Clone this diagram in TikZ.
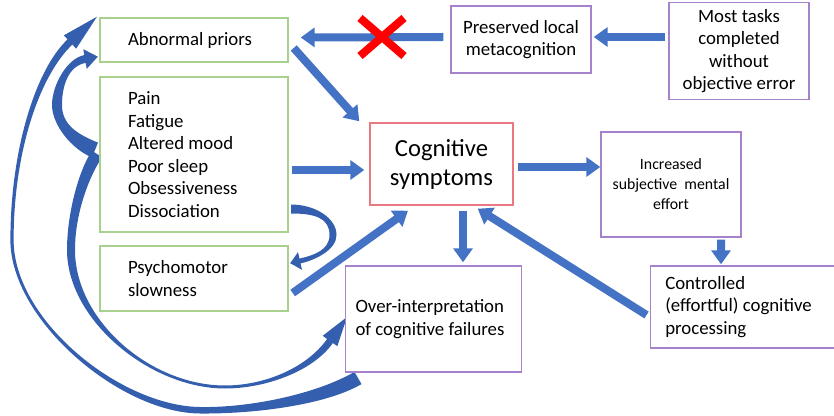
\documentclass[tikz,border=0pt]{standalone}
\usepackage{fontspec}
\setmainfont{Carlito}
\usepackage{xcolor}
\usetikzlibrary{arrows.meta}
\definecolor{arrblue}{RGB}{68,114,196}
\definecolor{curvblue}{RGB}{52,94,174}
\definecolor{boxgreen}{RGB}{169,209,142}
\definecolor{boxred}{RGB}{234,120,130}
\definecolor{boxpurple}{RGB}{166,130,204}
\begin{document}
\begin{tikzpicture}[x=0.5pt,y=-0.5pt]
		\tikzstyle{every node}+=[font=\fontsize{9.4}{11.25}\selectfont]
		\tikzstyle{gbox}=[draw=boxgreen, fill=white, line width=0.7pt, text width=66pt, inner xsep=14pt, align=flush left]
		\tikzstyle{pbox}=[draw=boxpurple, fill=white, line width=0.7pt, align=flush center]
		\tikzstyle{blk}=[draw=arrblue, line width=4pt, -{Triangle[length=7pt,width=9.5pt]}]
		\tikzstyle{curv}=[fill=curvblue]
		\useasboundingbox (0,0) rectangle (834,416);
		\fill [curv] (354.5,371.9) .. controls (316.5,393.9) and (250,408) .. (200,407) .. controls (120,406) and (13.6,320) .. (13.6,240) .. controls (13.6,150) and (40.4,74.6) .. (72.4,44.6) -- (76.2,48.6) -- (97,16.7) -- (63.8,35.4) -- (67.6,39.4) .. controls (35.6,69.4) and (10.4,150) .. (10.4,240) .. controls (10.4,320) and (120,413) .. (200,413.5) .. controls (250,414) and (323.5,406.1) .. (361.5,384.1) -- cycle;
		\fill [curv] (92,150.7) .. controls (78,171.7) and (67,215) .. (67,250) .. controls (67,320) and (150,388.5) .. (225,388.5) .. controls (265,388.5) and (312.7,371.6) .. (332.9,343) -- (337.3,346.2) -- (347,317) -- (322.7,335.8) -- (327.1,339) .. controls (306.9,367.6) and (265,385.5) .. (225,385.5) .. controls (150,385.5) and (75,320) .. (75,250) .. controls (75,215) and (88,178.3) .. (102,157.3) -- cycle;
		\fill [curv] (98,142.6) .. controls (78,134.6) and (62,125) .. (62,105) .. controls (62,85) and (68.7,65.9) .. (85.7,62.9) -- (86.7,68.9) -- (97.8,56.7) -- (83.3,49.2) -- (84.3,55.1) .. controls (67.3,58.1) and (52,85) .. (52,105) .. controls (52,125) and (72,149.4) .. (92,157.4) -- cycle;
		\fill [curv] (291,213.5) .. controls (315,213.5) and (329.5,218) .. (329.5,235) .. controls (329.5,250) and (314.1,255.3) .. (299.5,258.6) -- (298,252.2) -- (290.2,263.2) -- (302,269.8) -- (300.5,263.4) .. controls (315.1,260.1) and (336.5,250) .. (336.5,235) .. controls (336.5,218) and (315,204.5) .. (291,204.5) -- cycle;
		\node [gbox, minimum height=22pt] (prior) at (194,40) {Abnormal priors};
		\node [gbox, minimum height=77.5pt] (list) at (194,154.5) {Pain\\Fatigue\\Altered mood\\Poor sleep\\Obsessiveness\\Dissociation};
		\node [gbox, minimum height=32.5pt] (psy) at (194,278.5) {Psychomotor\\slowness};
		\node [draw=boxred, fill=white, line width=0.7pt, align=flush center, minimum width=71.5pt, minimum height=41pt, font=\fontsize{12.3}{14.5}\selectfont] (cog) at (441.5,164) {Cognitive\\symptoms};
		\node [pbox, minimum width=70pt, minimum height=33.5pt] (pres) at (521,39.5) {Preserved local\\metacognition};
		\node [pbox, minimum width=70pt, minimum height=46pt] (most) at (739,51) {Most tasks\\completed\\without\\objective error};
		\node [pbox, minimum width=70pt, minimum height=52.5pt, font=\fontsize{7.9}{10}\selectfont] (incr) at (671,184.5) {Increased\\subjective\ \ mental\\effort};
		\node [pbox, align=flush left, text width=78pt, inner xsep=7.5pt, minimum height=41pt] (ctrl) at (743.25,307) {Controlled\\(effortful) cognitive\\processing};
		\node [pbox, align=flush left, text width=78pt, inner xsep=5pt, minimum height=53pt] (over) at (433.5,319) {Over-interpretation\\of cognitive failures};
		\draw [blk] ([xshift=-3.5pt,yshift=1.25pt]pres.west) -- ([xshift=6pt,yshift=1.25pt]prior.east);
		\draw [blk] ([xshift=-1.5pt,yshift=7pt]most.west) -- ([xshift=1pt,yshift=1.25pt]pres.east);
		\draw [blk] ([xshift=2.5pt,yshift=-4pt]prior.east) -- ([xshift=-5pt,yshift=0.5pt]cog.north west);
		\draw [blk] ([xshift=1.5pt,yshift=-7.75pt]list.east) -- ([xshift=-2.5pt,yshift=-3pt]cog.west);
		\draw [blk] ([xshift=2pt,yshift=-7.25pt]psy.east) -- ([xshift=-16.75pt,yshift=-2.5pt]cog.south);
		\draw [blk] ([xshift=2pt,yshift=-1.5pt]cog.east) -- ([yshift=8.75pt]incr.west);
		\draw [blk] ([xshift=10.75pt,yshift=-2.5pt]cog.south) -- ([xshift=14.75pt,yshift=1.5pt]over.north);
		\draw [blk] ([xshift=25pt,yshift=-1pt]incr.south) -- ([xshift=-11.1pt,yshift=0.5pt]ctrl.north);
		\draw [blk] ([xshift=-1.5pt,yshift=-4pt]ctrl.west) -- ([xshift=-18pt,yshift=-1.5pt]cog.south east);
		\coordinate (xmark) at (382,37);
		\draw [red, line width=4pt] ([shift={(-22,-19)}]xmark) -- ([shift={(22,19)}]xmark);
		\draw [red, line width=4pt] ([shift={(-22,19)}]xmark) -- ([shift={(22,-19)}]xmark);
		\end{tikzpicture}
\end{document}
